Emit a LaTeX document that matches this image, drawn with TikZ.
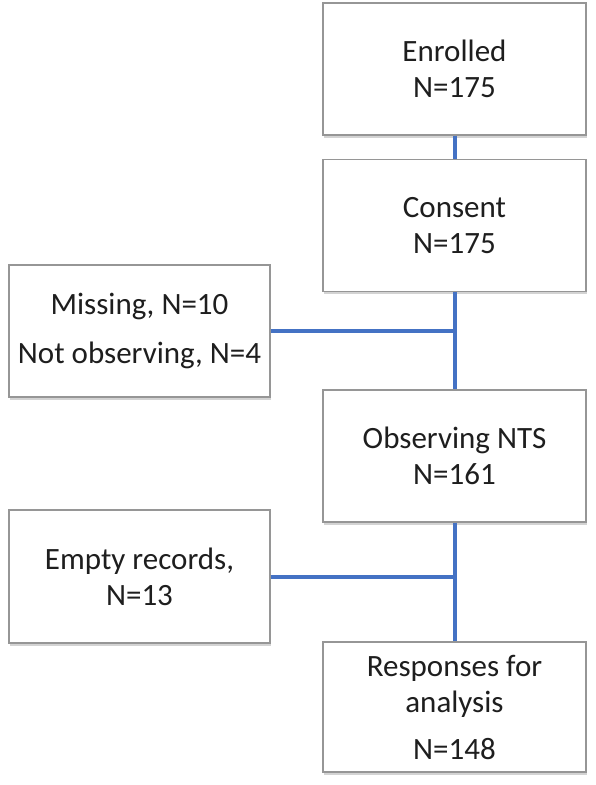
\documentclass[tikz,border=0pt]{standalone}
\usepackage{fontspec}
\setmainfont{Carlito}
\usetikzlibrary{shadows}

\definecolor{linkblue}{RGB}{68,114,196}
\definecolor{boxgray}{RGB}{150,150,150}
\definecolor{txtgray}{RGB}{30,30,30}

\begin{document}
\begin{tikzpicture}[x=1pt, y=-1pt,
	stagebox/.style={draw=boxgray, line width=1.2pt, fill=white, align=center, inner sep=0pt,
		minimum width=263pt, minimum height=132pt, text=txtgray,
		font={\fontsize{31}{36}\selectfont},
		drop shadow={shadow xshift=1pt, shadow yshift=-2.5pt, opacity=0.35}},
	link/.style={draw=linkblue, line width=4pt}]

	% page size
	\useasboundingbox (0,0) rectangle (595,785);

	% main column
	\node[stagebox] (enrolled) at (454.5,69) {Enrolled\\N=175};
	\node[stagebox] (consent) at (454.5,225.5) {Consent\\N=175};
	\node[stagebox] (observing) at (454.5,456) {Observing NTS\\N=161};
	\node[stagebox, minimum height=130pt] (responses) at (454.5,707) {Responses for\\analysis\\[11pt]N=148};

	% exclusions
	\node[stagebox, minimum width=261pt] (missing) at (139.5,331) {Missing, N=10\\[13pt]Not observing, N=4};
	\node[stagebox, minimum width=261pt, minimum height=133pt] (empty) at (139.5,576.5) {Empty records,\\N=13};

	\draw[link] (enrolled) -- (consent);
	\draw[link] (consent) -- (observing);
	\draw[link] (observing) -- (responses);
	\draw[link] (missing.east) -- (missing.east -| consent.south);
	\draw[link] (empty.east) -- (empty.east -| observing.south);

\end{tikzpicture}
\end{document}
